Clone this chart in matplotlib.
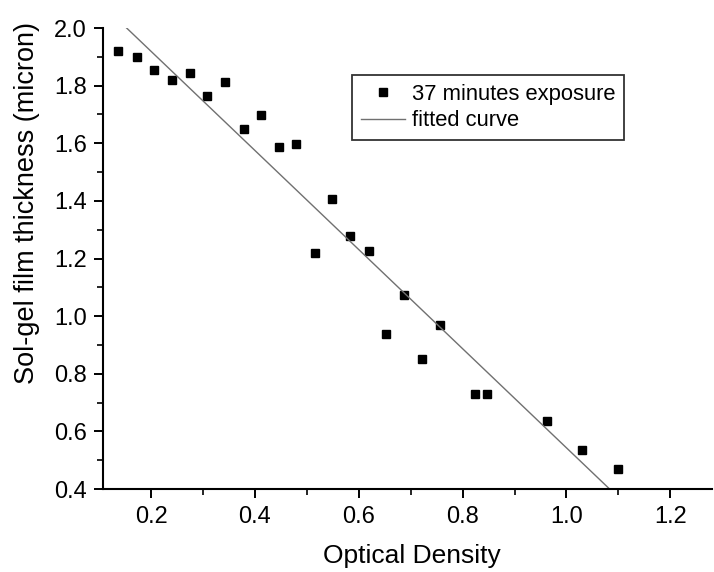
import numpy as np
import matplotlib
matplotlib.use('Agg')
import matplotlib.pyplot as plt
from matplotlib.ticker import MultipleLocator

plt.rcParams['font.family'] = ['Liberation Sans', 'DejaVu Sans']

# Data
optical_density = [0.137, 0.172, 0.206, 0.240, 0.274, 0.308, 0.343, 0.378,
                   0.412, 0.446, 0.480, 0.515, 0.549, 0.584, 0.619, 0.652,
                   0.687, 0.722, 0.756, 0.824, 0.846, 0.963, 1.030, 1.100]
thickness = [1.920, 1.898, 1.853, 1.819, 1.845, 1.765, 1.811, 1.650,
             1.698, 1.588, 1.597, 1.218, 1.406, 1.279, 1.227, 0.938,
             1.074, 0.853, 0.968, 0.729, 0.729, 0.635, 0.537, 0.469]

# fitted straight line (slope / intercept)
fit_slope = -1.72
fit_intercept = 2.263
fit_x = [0.13, 1.10]

fig = plt.figure(figsize=(7.14, 5.72), dpi=100)
ax = fig.add_axes([0.144, 0.145, 0.853, 0.806])

ax.plot(optical_density, thickness, 's', color='black', markersize=6.4,
        label='37 minutes exposure')
fx = np.array(fit_x)
ax.plot(fx, fit_slope * fx + fit_intercept, '-', color='#707070', lw=1.0,
        label='fitted curve')

ax.set_xlim(0.107, 1.28)
ax.set_ylim(0.4, 2.0)
ax.xaxis.set_major_locator(MultipleLocator(0.2))
ax.xaxis.set_minor_locator(MultipleLocator(0.1))
ax.yaxis.set_major_locator(MultipleLocator(0.2))
ax.yaxis.set_minor_locator(MultipleLocator(0.1))
ax.xaxis.set_major_formatter(plt.FormatStrFormatter('%.1f'))
ax.yaxis.set_major_formatter(plt.FormatStrFormatter('%.1f'))

for s in ['top', 'right']:
    ax.spines[s].set_visible(False)
for s in ['left', 'bottom']:
    ax.spines[s].set_linewidth(1.5)

ax.tick_params(which='major', direction='out', length=6.5, width=1.4, labelsize=17)
ax.tick_params(which='minor', direction='out', length=4, width=1.2)
ax.tick_params(axis='x', which='major', pad=6)
ax.tick_params(axis='y', which='major', pad=5)

ax.set_xlabel('Optical Density', fontsize=19)
ax.set_ylabel('Sol-gel film thickness (micron)', fontsize=19.5)
ax.xaxis.set_label_coords(0.507, -0.119)
ax.yaxis.set_label_coords(-0.103, 0.62)

leg = ax.legend(loc='upper left', bbox_to_anchor=(0.409, 0.898), fontsize=15.8,
                frameon=True, fancybox=False, edgecolor='black',
                handlelength=2.0, handletextpad=0.33, borderpad=0.4,
                labelspacing=0.25, borderaxespad=0)
leg.get_frame().set_linewidth(1.3)

fig.savefig('out.png', dpi=100)
